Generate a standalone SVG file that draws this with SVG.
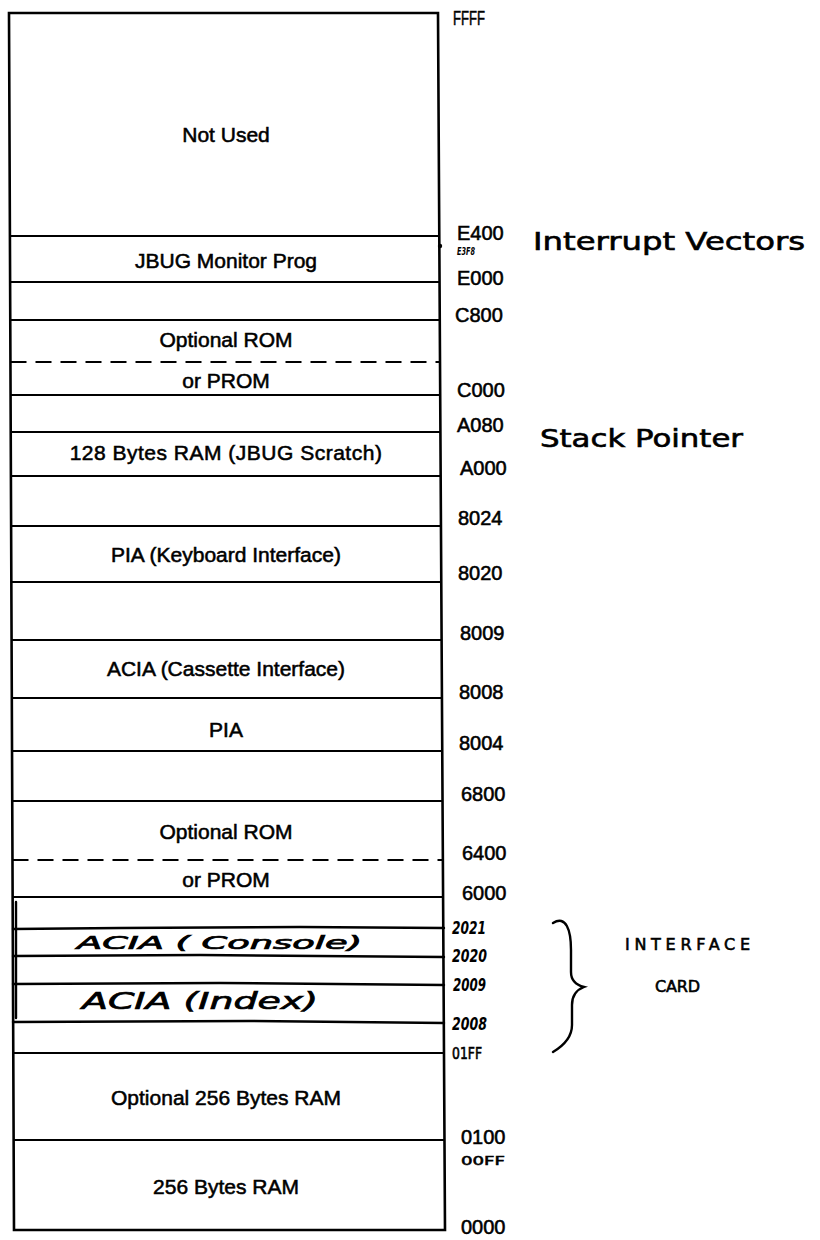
<svg xmlns="http://www.w3.org/2000/svg" width="820" height="1240" viewBox="0 0 820 1240">
<style>
.bg{fill:#fff}
.border{fill:none;stroke:#000;stroke-width:2.6}
.sep{stroke:#000;stroke-width:1.8;fill:none}
.dash{stroke:#000;stroke-width:1.8;stroke-dasharray:16 9;fill:none}
.hand{stroke:#000;stroke-width:2.4;fill:none;stroke-linecap:round}
.lbl{font-family:"Liberation Sans",Arial,sans-serif;font-size:21px;fill:#000;stroke:#000;stroke-width:0.55;text-anchor:middle}
.adr{font-family:"Liberation Sans",Arial,sans-serif;font-size:20px;fill:#000;stroke:#000;stroke-width:0.55}
.hw{font-family:"DejaVu Sans",sans-serif;fill:#000;stroke:#000;stroke-width:0.6}
.hwi{font-family:"DejaVu Sans",sans-serif;font-style:italic;fill:#000;stroke:#000;stroke-width:0.7}
.hwb{font-family:"DejaVu Sans",sans-serif;font-style:italic;font-weight:bold;fill:#000}
</style>
<rect class="bg" x="0" y="0" width="820" height="1240"/>

<g id="memory-map">
  <path class="border" d="M9 13 L438 13 L445 1230 L14 1230 Z"/>
</g>

<g id="not-used">
  <text class="lbl" x="226" y="142">Not Used</text>
</g>
<g id="jbug-monitor">
  <line class="sep" x1="10" y1="236" x2="439" y2="236"/>
  <text class="lbl" x="226" y="268">JBUG Monitor Prog</text>
</g>
<g id="gap-e000">
  <line class="sep" x1="10" y1="282" x2="439.5" y2="282"/>
</g>
<g id="optional-rom-high">
  <line class="sep" x1="10" y1="320" x2="440" y2="320"/>
  <text class="lbl" x="226" y="347">Optional ROM</text>
  <line class="dash" x1="10.5" y1="362" x2="440" y2="362"/>
  <text class="lbl" x="226" y="388">or PROM</text>
</g>
<g id="gap-c000">
  <line class="sep" x1="10.5" y1="395" x2="440" y2="395"/>
</g>
<g id="jbug-scratch">
  <line class="sep" x1="10.5" y1="432" x2="440.5" y2="432"/>
  <text class="lbl" x="226" y="460" letter-spacing="0.5">128 Bytes RAM (JBUG Scratch)</text>
</g>
<g id="gap-a000">
  <line class="sep" x1="11" y1="476" x2="440.5" y2="476"/>
</g>
<g id="pia-keyboard">
  <line class="sep" x1="11" y1="526" x2="441" y2="526"/>
  <text class="lbl" x="226" y="562">PIA (Keyboard Interface)</text>
</g>
<g id="gap-8020">
  <line class="sep" x1="11" y1="582" x2="441.5" y2="582"/>
</g>
<g id="acia-cassette">
  <line class="sep" x1="11.5" y1="640" x2="441.5" y2="640"/>
  <text class="lbl" x="226" y="676">ACIA (Cassette Interface)</text>
</g>
<g id="pia">
  <line class="sep" x1="12" y1="698" x2="442" y2="698"/>
  <text class="lbl" x="226" y="737">PIA</text>
</g>
<g id="gap-8004">
  <line class="sep" x1="12" y1="751" x2="442" y2="751"/>
</g>
<g id="optional-rom-low">
  <line class="sep" x1="12" y1="801" x2="442.5" y2="801"/>
  <text class="lbl" x="226" y="839">Optional ROM</text>
  <line class="dash" x1="12.5" y1="860" x2="443" y2="860"/>
  <text class="lbl" x="226" y="887">or PROM</text>
</g>
<g id="gap-6000">
  <line class="sep" x1="12.5" y1="897" x2="443" y2="897"/>
  <path class="hand" d="M16 902 L16 1018"/>
</g>
<g id="acia-console">
  <path class="hand" d="M13 929 L120 928 L300 927 L444 928"/>
  <text class="hwi" x="77" y="949" font-size="17" textLength="285" lengthAdjust="spacingAndGlyphs">ACIA  ( Console)</text>
  <path class="hand" d="M13 956 L200 955 L444 957"/>
</g>
<g id="acia-index">
  <path class="hand" d="M13 984 L220 983 L444 985"/>
  <text class="hwi" x="82" y="1009" font-size="23" textLength="236" lengthAdjust="spacingAndGlyphs">ACIA (Index)</text>
  <path class="hand" d="M13 1022 L250 1021 L444 1023"/>
</g>
<g id="gap-01ff">
  <line class="sep" x1="13.3" y1="1053" x2="444" y2="1053"/>
</g>
<g id="optional-ram">
  <text class="lbl" x="226" y="1105">Optional 256 Bytes RAM</text>
</g>
<g id="ram">
  <line class="sep" x1="13.6" y1="1140" x2="444.5" y2="1140"/>
  <text class="lbl" x="226" y="1194">256 Bytes RAM</text>
</g>

<g id="addresses">
  <text class="adr" x="453" y="25" textLength="32" lengthAdjust="spacingAndGlyphs">FFFF</text>
  <text class="adr" x="457" y="240">E400</text>
  <text class="adr" x="457" y="285">E000</text>
  <text class="adr" x="455" y="322">C800</text>
  <text class="adr" x="457" y="397">C000</text>
  <text class="adr" x="457" y="432">A080</text>
  <text class="adr" x="460" y="475">A000</text>
  <text class="adr" x="458" y="525">8024</text>
  <text class="adr" x="458" y="580">8020</text>
  <text class="adr" x="460" y="640">8009</text>
  <text class="adr" x="459" y="699">8008</text>
  <text class="adr" x="459" y="750">8004</text>
  <text class="adr" x="461" y="801">6800</text>
  <text class="adr" x="462" y="860">6400</text>
  <text class="adr" x="462" y="900">6000</text>
  <text class="adr" x="461" y="1144">0100</text>
  <text class="adr" x="461" y="1234">0000</text>
</g>

<g id="handwritten-notes">
  <circle cx="440" cy="246" r="2.2" fill="#000"/>
  <text class="hwb" x="457" y="255" font-size="10" textLength="18" lengthAdjust="spacingAndGlyphs">E3F8</text>
  <text class="hw" x="533" y="250" font-size="24" textLength="272" lengthAdjust="spacingAndGlyphs">Interrupt Vectors</text>
  <text class="hw" x="540" y="447" font-size="24" textLength="203" lengthAdjust="spacingAndGlyphs">Stack Pointer</text>
  <text class="hwb" x="452" y="934" font-size="17" textLength="34" lengthAdjust="spacingAndGlyphs">2021</text>
  <text class="hwb" x="452" y="962" font-size="17" textLength="35" lengthAdjust="spacingAndGlyphs">2020</text>
  <text class="hwb" x="453" y="991" font-size="17" textLength="33" lengthAdjust="spacingAndGlyphs">2009</text>
  <text class="hwb" x="452" y="1030" font-size="17" textLength="35" lengthAdjust="spacingAndGlyphs">2008</text>
  <text class="hw" x="452" y="1059" font-size="15" textLength="30" lengthAdjust="spacingAndGlyphs" stroke-width="0.3">01FF</text>
  <text class="hw" x="461" y="1165" font-size="13" textLength="44" lengthAdjust="spacingAndGlyphs" stroke-width="0.2">00FF</text>
</g>

<g id="connectors">
  <path class="hand" d="M553 923 C566 915 571 930 571 950 L571 972 C571 980 576 985 584 987 C576 990 572 996 572 1005 L572 1025 C572 1038 563 1046 553 1052"/>
</g>

<g id="interface-card">
  <text class="hw" x="625" y="950" font-size="16" textLength="125" lengthAdjust="spacing" stroke-width="0.5">INTERFACE</text>
  <text class="hw" x="655" y="992" font-size="16" textLength="45" lengthAdjust="spacing" stroke-width="0.5">CARD</text>
</g>
</svg>
